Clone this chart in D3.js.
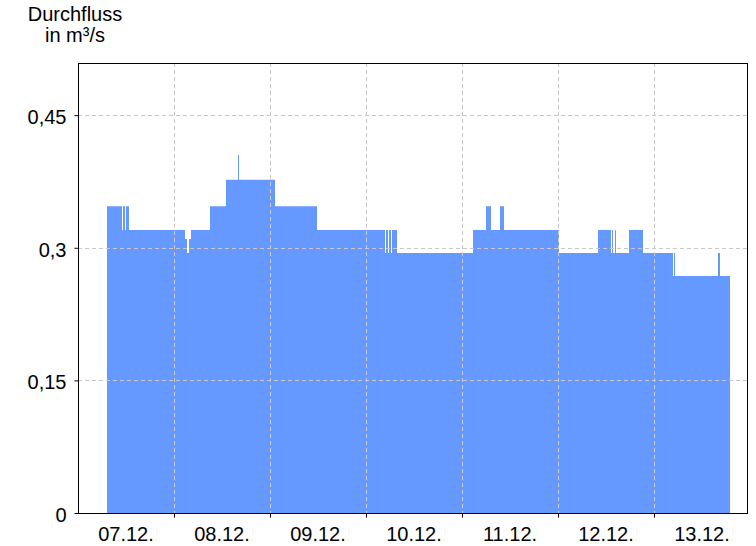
<!DOCTYPE html>
<html>
<head>
<meta charset="utf-8">
<script src="https://cdn.jsdelivr.net/npm/d3@7"></script>
<style>
  body { margin: 0; background: #fff; }
  text { font-family: "Liberation Sans", Arial, sans-serif; fill: #000; }
</style>
</head>
<body>
<div id="chart"></div>
<script>
// step changes of the discharge series (time of change, new value)
var times = [
  "2021-12-07 07:15", "2021-12-07 11:00", "2021-12-07 11:15", "2021-12-07 11:45", "2021-12-07 12:00", "2021-12-07 12:45",
  "2021-12-08 02:45", "2021-12-08 03:15", "2021-12-08 03:45", "2021-12-08 04:15",
  "2021-12-08 09:00", "2021-12-08 13:00", "2021-12-08 16:00", "2021-12-08 16:15",
  "2021-12-09 01:15", "2021-12-09 11:45",
  "2021-12-10 04:45", "2021-12-10 05:00", "2021-12-10 05:30", "2021-12-10 05:45", "2021-12-10 06:15", "2021-12-10 06:30", "2021-12-10 07:45",
  "2021-12-11 02:45", "2021-12-11 06:00", "2021-12-11 07:15", "2021-12-11 09:30", "2021-12-11 10:30",
  "2021-12-12 00:15", "2021-12-12 10:00", "2021-12-12 13:15", "2021-12-12 13:30", "2021-12-12 13:45", "2021-12-12 14:15", "2021-12-12 14:30",
  "2021-12-12 17:45", "2021-12-12 21:15",
  "2021-12-13 04:45", "2021-12-13 05:00", "2021-12-13 05:15", "2021-12-13 16:00", "2021-12-13 16:30", "2021-12-13 19:00"
];
var values = [
  0.347, 0.32, 0.347, 0.32, 0.347, 0.32,
  0.31, 0.294, 0.31, 0.32,
  0.347, 0.377, 0.405, 0.377,
  0.347, 0.32,
  0.294, 0.32, 0.294, 0.32, 0.294, 0.32, 0.294,
  0.32, 0.347, 0.32, 0.347, 0.32,
  0.294, 0.32, 0.294, 0.32, 0.294, 0.32, 0.294,
  0.32, 0.294,
  0.268, 0.294, 0.268, 0.294, 0.268, 0.268
];
var dayTicks = ["2021-12-08", "2021-12-09", "2021-12-10", "2021-12-11", "2021-12-12", "2021-12-13"];
var dayLabels = ["07.12.", "08.12.", "09.12.", "10.12.", "11.12.", "12.12.", "13.12."];
var yTicks = [0, 0.15, 0.3, 0.45];
var yTickLabels = ["0", "0,15", "0,3", "0,45"];
var titleLines = ["Durchfluss", "in m³/s"];

var W = 756, H = 546;
var margin = { top: 63, right: 9, bottom: 33, left: 78 };
var width = W - margin.left - margin.right,
  height = H - margin.top - margin.bottom;

var parseT = d3.timeParse("%Y-%m-%d %H:%M");
var parseD = d3.timeParse("%Y-%m-%d");

var data = times.map(function (t, i) { return { t: parseT(t), v: values[i] }; });

var xScale = d3.scaleTime()
  .domain([parseT("2021-12-07 00:00"), parseT("2021-12-13 23:15")])
  .range([0, width]);
var yScale = d3.scaleLinear()
  .domain([0, 0.509])
  .range([height, 0]);

var svg = d3.select("#chart").append("svg")
  .attr("width", W)
  .attr("height", H);

// title
svg.append("text")
  .attr("text-anchor", "middle")
  .style("font-size", "20px")
  .selectAll("tspan").data(titleLines).enter()
  .append("tspan")
  .attr("x", 75)
  .attr("y", function (d, i) { return 21 + i * 21; })
  .text(function (d) { return d; });

var g = svg.append("g").attr("transform", "translate(" + margin.left + "," + margin.top + ")");

// area
var area = d3.area()
  .x(function (d) { return xScale(d.t); })
  .y0(yScale(0))
  .y1(function (d) { return yScale(d.v); })
  .curve(d3.curveStepAfter);

g.append("path").datum(data)
  .attr("d", area)
  .attr("fill", "#6699ff");

// grid
g.selectAll(".vgrid").data(dayTicks).enter()
  .append("line")
  .attr("x1", function (d) { return Math.round(xScale(parseD(d))) + 0.5; })
  .attr("x2", function (d) { return Math.round(xScale(parseD(d))) + 0.5; })
  .attr("y1", 0).attr("y2", height)
  .attr("stroke", "#c8c8c8").attr("stroke-dasharray", "4,3");

g.selectAll(".hgrid").data(yTicks.slice(1)).enter()
  .append("line")
  .attr("x1", 0).attr("x2", width)
  .attr("y1", function (d) { return Math.round(yScale(d)) + 0.5; })
  .attr("y2", function (d) { return Math.round(yScale(d)) + 0.5; })
  .attr("stroke", "#c8c8c8").attr("stroke-dasharray", "4,3");

// frame
g.append("rect")
  .attr("x", 0.5).attr("y", 0.5)
  .attr("width", width).attr("height", height)
  .attr("fill", "none").attr("stroke", "#000");

// y axis
var yAxis = d3.axisLeft(yScale)
  .tickValues(yTicks)
  .tickSize(4)
  .tickPadding(8)
  .tickFormat(function (d, i) { return yTickLabels[i]; });
var yg = g.append("g").attr("transform", "translate(0.5,0)").call(yAxis);
yg.select(".domain").remove();
yg.selectAll("text").style("font-size", "20px").attr("font-family", null).attr("dy", "0.42em");
yg.selectAll("line").attr("stroke", "#000");

// x axis (ticks at day boundaries, labels at noon)
var xAxis = d3.axisBottom(xScale)
  .tickValues(dayTicks.map(parseD))
  .tickSize(4)
  .tickFormat("");
var xg = g.append("g").attr("transform", "translate(0," + (height + 0.5) + ")").call(xAxis);
xg.select(".domain").remove();
xg.selectAll("line").attr("stroke", "#000");

g.selectAll(".xlabel").data(dayLabels).enter()
  .append("text")
  .attr("text-anchor", "middle")
  .style("font-size", "20px")
  .attr("x", function (d, i) { return xScale(d3.timeHour.offset(parseT("2021-12-07 12:00"), 24 * i)); })
  .attr("y", height + 28)
  .text(function (d) { return d; });
</script>
</body>
</html>
